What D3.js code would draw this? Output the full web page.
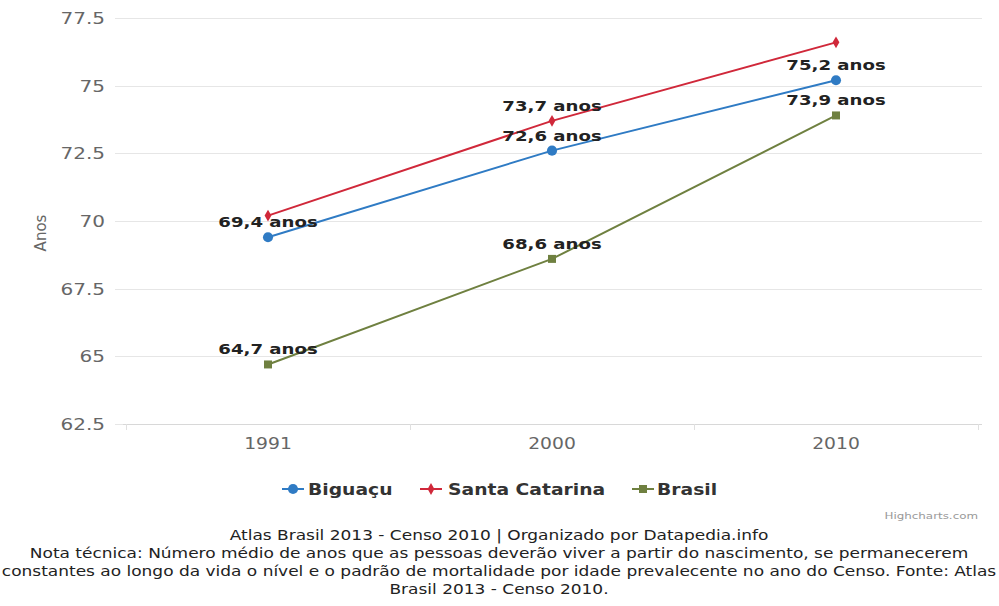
<!DOCTYPE html>
<html>
<head>
<meta charset="utf-8">
<script src="https://cdn.jsdelivr.net/npm/d3@7"></script>
<style>
  html, body { margin: 0; padding: 0; background: #fff; }
  svg { display: block; }
</style>
</head>
<body>
<svg id="chart" width="999" height="606"></svg>
<script>
// ---------- data ----------
const categories = ["1991", "2000", "2010"];
const seriesNames = ["Biguaçu", "Santa Catarina", "Brasil"];
const biguacu = [69.4, 72.6, 75.2];
const santaCatarina = [70.2, 73.7, 76.6];
const brasil = [64.7, 68.6, 73.9];
const biguacuLabels = [true, true, true];
const santaCatarinaLabels = [false, true, false];
const brasilLabels = [true, true, true];
const yTicks = [62.5, 65, 67.5, 70, 72.5, 75, 77.5];
const yTitle = "Anos";
const credits = "Highcharts.com";
const footerLines = [
  "Atlas Brasil 2013 - Censo 2010 | Organizado por Datapedia.info",
  "Nota técnica: Número médio de anos que as pessoas deverão viver a partir do nascimento, se permanecerem",
  "constantes ao longo da vida o nível e o padrão de mortalidade por idade prevalecente no ano do Censo. Fonte: Atlas",
  "Brasil 2013 - Censo 2010."
];

// ---------- styles ----------
const colors = ["#2f7bc4", "#d0283a", "#6f8040"];
const symbols = [d3.symbolCircle, d3.symbolDiamond, d3.symbolSquare];
const symbolSizes = [80, 40, 64];
const SX = 1.25; // horizontal stretch of the text in the reference

const series = [
  { name: seriesNames[0], values: biguacu, labels: biguacuLabels },
  { name: seriesNames[1], values: santaCatarina, labels: santaCatarinaLabels },
  { name: seriesNames[2], values: brasil, labels: brasilLabels }
];

const svg = d3.select("#chart");
const plot = { left: 126, right: 978, top: 18, bottom: 424 };

const x = d3.scaleBand().domain(categories).range([plot.left, plot.right]);
const y = d3.scaleLinear().domain([62.5, 77.5]).range([plot.bottom, plot.top]);

function stretchedText(g, tx, ty, txt, opts) {
  const t = g.append("g").attr("transform", `translate(${tx},${ty}) scale(${SX},1)`)
    .append("text")
    .attr("text-anchor", opts.anchor || "middle")
    .attr("font-family", opts.family || "DejaVu Sans")
    .attr("font-size", opts.size)
    .attr("font-weight", opts.weight || "normal")
    .attr("fill", opts.fill || "#333")
    .text(txt);
  return t;
}

// grid
const grid = svg.append("g");
grid.selectAll("line").data(yTicks).join("line")
  .attr("x1", 115).attr("x2", 982)
  .attr("y1", d => Math.round(y(d)) + 0.5).attr("y2", d => Math.round(y(d)) + 0.5)
  .attr("stroke", "#e6e6e6").attr("stroke-width", 1);

// y tick labels
const yLab = svg.append("g");
yTicks.forEach(v => {
  stretchedText(yLab, 105, y(v) + 6, String(v), { anchor: "end", size: 16, fill: "#666" });
});

// y title
svg.append("text")
  .attr("transform", `translate(46,${(plot.top + plot.bottom) / 2 + 12}) rotate(-90)`)
  .attr("text-anchor", "middle")
  .attr("font-family", "DejaVu Sans").attr("font-size", 15).attr("fill", "#666")
  .text(yTitle);

// x axis
const xAxis = svg.append("g").attr("transform", `translate(0,${plot.bottom})`)
  .call(d3.axisBottom(x).tickSize(0).tickFormat(""));
xAxis.select(".domain").attr("stroke", "#d8d8d8").attr("d", `M${plot.left - 3},0.5H${plot.right + 4}`);
const bounds = categories.map(c => x(c)).concat([plot.right]);
svg.append("g").selectAll("line").data(bounds).join("line")
  .attr("x1", d => Math.round(d) + 0.5).attr("x2", d => Math.round(d) + 0.5)
  .attr("y1", plot.bottom).attr("y2", plot.bottom + 6)
  .attr("stroke", "#e0e0e0");
const xLab = svg.append("g");
categories.forEach(c => {
  stretchedText(xLab, x(c) + x.bandwidth() / 2, plot.bottom + 25, c, { size: 15, fill: "#666" });
});

// lines
const line = d3.line()
  .x((d, i) => x(categories[i]) + x.bandwidth() / 2)
  .y(d => y(d));

const sg = svg.append("g");
series.forEach((s, si) => {
  sg.append("path").attr("d", line(s.values))
    .attr("fill", "none").attr("stroke", colors[si]).attr("stroke-width", 2);
});
series.forEach((s, si) => {
  s.values.forEach((v, i) => {
    sg.append("path")
      .attr("d", d3.symbol().type(symbols[si]).size(symbolSizes[si])())
      .attr("transform", `translate(${x(categories[i]) + x.bandwidth() / 2},${y(v)})`)
      .attr("fill", colors[si]);
  });
});

// data labels
const dl = svg.append("g");
series.forEach((s, si) => {
  s.values.forEach((v, i) => {
    if (!s.labels[i]) return;
    const txt = String(v).replace(".", ",") + " anos";
    stretchedText(dl, x(categories[i]) + x.bandwidth() / 2, y(v) - 10, txt,
      { size: 14.5, weight: "bold", fill: "#222" });
  });
});

// legend
const legendItems = [
  { x: 282, tx: 308 },
  { x: 420, tx: 448 },
  { x: 632, tx: 657 }
];
const lg = svg.append("g");
series.forEach((s, si) => {
  const it = legendItems[si];
  const ly = 489;
  lg.append("line").attr("x1", it.x).attr("x2", it.x + 22).attr("y1", ly).attr("y2", ly)
    .attr("stroke", colors[si]).attr("stroke-width", 2);
  lg.append("path")
    .attr("d", d3.symbol().type(symbols[si]).size(symbolSizes[si])())
    .attr("transform", `translate(${it.x + 11},${ly})`)
    .attr("fill", colors[si]);
  stretchedText(lg, it.tx, ly + 6, s.name, { anchor: "start", size: 15, weight: "bold", fill: "#333" });
});

// credits
stretchedText(svg, 978, 519, credits, { anchor: "end", size: 9.5, fill: "#999" });

// footer
const ft = svg.append("g");
footerLines.forEach((l, i) => {
  stretchedText(ft, 499, 540 + i * 18, l, { size: 13.6, fill: "#222" });
});
</script>
</body>
</html>
